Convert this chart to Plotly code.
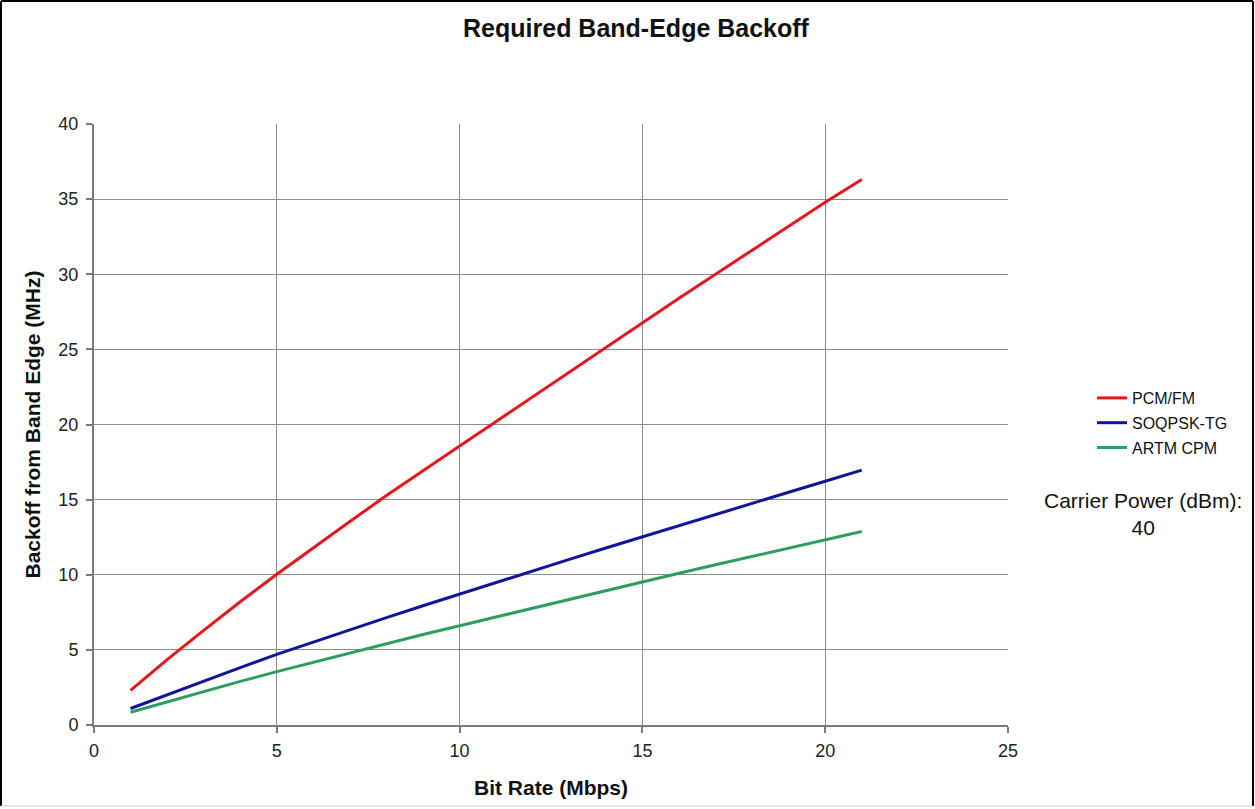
import plotly.graph_objects as go

bit_rate = list(range(1, 22))
pcm_fm = [2.3, 4.35, 6.3, 8.2, 10.03, 11.8, 13.55, 15.27, 16.94, 18.57, 20.2, 21.85, 23.5, 25.15,
          26.78, 28.4, 30.0, 31.6, 33.2, 34.79, 36.3]
soqpsk = [1.1, 2.02, 2.93, 3.82, 4.70, 5.53, 6.35, 7.15, 7.94, 8.72, 9.49, 10.26, 11.02, 11.78,
          12.53, 13.27, 14.01, 14.74, 15.49, 16.22, 16.96]
artm = [0.85, 1.55, 2.23, 2.9, 3.55, 4.18, 4.8, 5.42, 6.02, 6.61, 7.2, 7.79, 8.38, 8.96,
        9.54, 10.1, 10.66, 11.21, 11.76, 12.31, 12.88]
series_names = ["PCM/FM", "SOQPSK-TG", "ARTM CPM"]
series_colors = ["#e6171c", "#14149a", "#2f9c62"]
x_ticks = [0, 5, 10, 15, 20, 25]
y_ticks = [0, 5, 10, 15, 20, 25, 30, 35, 40]

W, H = 1255, 809
L, R, T, B = 94, 247, 124, 84
pw, ph = W - L - R, H - T - B

def px(x):
    return (x - L) / pw

def py(y):
    return (H - B - y) / ph

fig = go.Figure()
for name, ys, col in zip(series_names, [pcm_fm, soqpsk, artm], series_colors):
    fig.add_trace(go.Scatter(x=bit_rate, y=ys, mode="lines", name=name,
                             legendgroup=name,
                             line=dict(color=col, width=3)))

axis_common = dict(showgrid=True, gridcolor="#8c8c8c", gridwidth=1,
                   showline=True, linecolor="#7a7a7a", linewidth=2,
                   ticks="outside", ticklen=6, tickcolor="#7a7a7a", tickwidth=2,
                   zeroline=False, automargin=False, tickfont=dict(size=18, color="#222"))

fig.update_layout(
    width=W, height=H,
    margin=dict(l=L, r=R, t=T, b=B),
    paper_bgcolor="white", plot_bgcolor="white",
    font=dict(family="Liberation Sans, Arial, sans-serif", color="#111"),
    title=dict(text="<b>Required Band-Edge Backoff</b>", x=636 / W, xref="container",
               xanchor="center", y=1 - 28 / H, yanchor="middle",
               font=dict(size=25, color="#111")),
    xaxis=dict(range=[0, 25], tickvals=x_ticks, **axis_common, ticklabelstandoff=2,
               title=dict(text="<b>Bit Rate (Mbps)</b>", font=dict(size=21), standoff=21)),
    yaxis=dict(range=[0, 40], tickvals=y_ticks, **axis_common, ticklabelstandoff=4,
               title=dict(text="<b>Backoff from Band Edge (MHz)</b>", font=dict(size=21), standoff=12)),
    legend=dict(x=px(1092), y=py(381), xanchor="left", yanchor="top",
                font=dict(size=16, color="#111"), tracegroupgap=1,
                traceorder="grouped", bgcolor="rgba(0,0,0,0)"),
    showlegend=True,
)

fig.add_annotation(text="Carrier Power (dBm):<br>40", xref="paper", yref="paper",
                   x=px(1143), y=py(514), xanchor="center", yanchor="middle",
                   showarrow=False, align="center",
                   font=dict(size=21, color="#111"))

# outer frame
fig.add_shape(type="line", xref="paper", yref="paper", x0=px(1), x1=px(1), y0=py(1), y1=py(806),
              line=dict(color="black", width=2))
fig.add_shape(type="line", xref="paper", yref="paper", x0=px(1), x1=px(1253), y0=py(1), y1=py(1),
              line=dict(color="black", width=2))
fig.add_shape(type="line", xref="paper", yref="paper", x0=px(1253), x1=px(1253), y0=py(1), y1=py(806),
              line=dict(color="black", width=2))
fig.add_shape(type="line", xref="paper", yref="paper", x0=px(1), x1=px(1253), y0=py(806), y1=py(806),
              line=dict(color="#cccccc", width=1))

fig.write_html("out.html", config={"displayModeBar": False},
               post_script="document.body.style.margin='0';document.body.style.overflow='hidden';")
